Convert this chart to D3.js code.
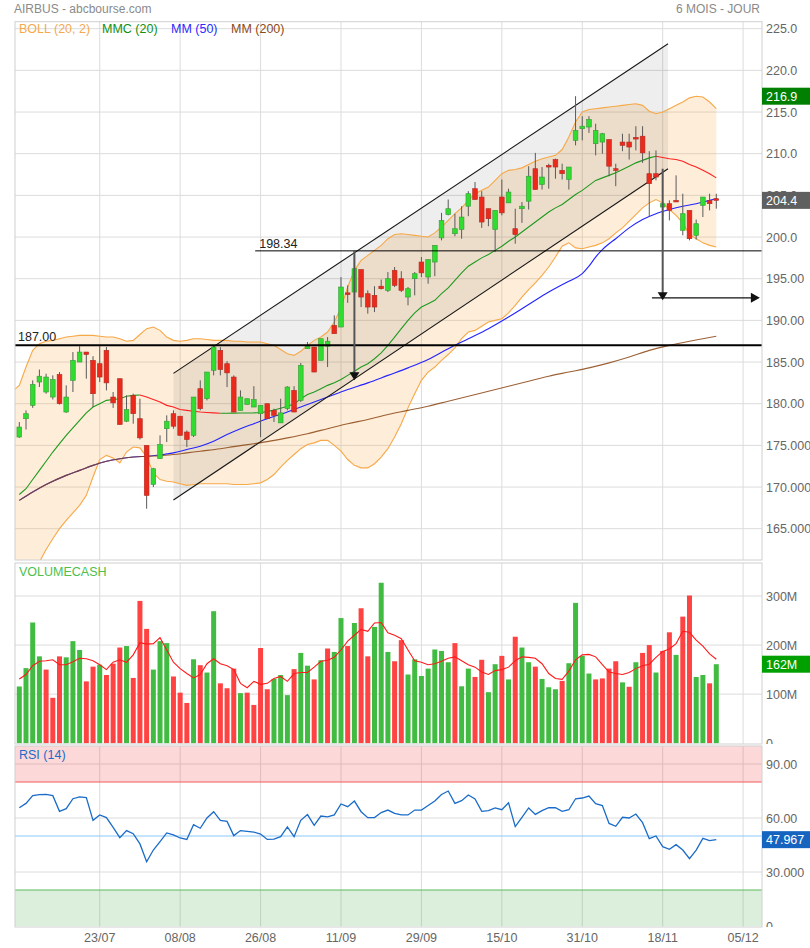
<!DOCTYPE html>
<html>
<head>
<meta charset="utf-8">
<script src="https://cdn.jsdelivr.net/npm/d3@7"></script>
<style>
  body { margin: 0; background: #fff; }
  svg text { font-family: "Liberation Sans", Arial, sans-serif; }
</style>
</head>
<body>
<script>
// Dates des graduations (index de séance)
const tickIdx = [12, 24, 36, 48, 60, 72, 84, 96, 108];
const tickLabels = ["23/07", "08/08", "26/08", "11/09", "29/09", "15/10", "31/10", "18/11", "05/12"];

// Cours (OHLC)
const openP = [176.0,178.2,179.8,182.6,181.4,180.8,183.5,179.0,182.8,185.0,
  186.2,185.2,184.8,186.4,180.8,183.0,177.9,181.0,178.2,175.0,
  170.3,173.4,177.0,178.8,178.5,176.6,176.2,181.8,180.6,184.0,
  186.4,184.8,183.2,179.2,179.9,179.6,178.8,180.0,179.2,177.7,
  179.4,181.6,180.4,186.6,186.8,185.2,186.9,189.4,189.2,193.3,
  193.4,196.1,193.2,193.0,194.1,193.6,196.0,195.0,192.8,195.0,
  197.0,195.2,197.0,199.9,202.7,200.4,200.9,203.7,205.8,204.8,
  203.4,200.9,204.8,204.1,201.0,203.4,204.3,208.2,206.3,208.6,
  209.3,208.0,206.9,211.6,213.0,213.2,211.2,211.4,211.7,208.2,
  211.4,211.4,211.95,212.1,207.6,207.6,203.6,204.0,204.4,200.8,
  203.2,200.2,203.8,204.4,204.6];
const highP = [177.8,179.2,182.8,184.1,183.6,183.4,183.8,182.2,186.2,186.9,
  186.2,185.7,186.9,186.8,181.4,183.0,181.0,181.2,180.6,175.0,
  172.3,176.2,178.6,179.2,178.5,176.8,180.8,182.8,183.8,186.9,
  186.8,185.1,183.4,181.6,180.6,182.1,179.8,180.0,179.4,180.6,
  182.1,182.1,184.9,187.4,186.8,187.8,188.0,190.6,195.2,194.2,
  198.34,196.1,193.6,194.1,194.9,195.8,196.4,195.9,194.0,195.8,
  197.6,197.3,199.0,202.9,204.5,202.8,203.7,205.5,206.6,205.5,
  203.4,203.2,206.9,205.8,203.4,204.2,208.5,210.1,208.4,208.8,
  209.4,208.8,208.4,216.9,214.5,214.5,213.6,212.5,211.7,208.8,
  212.4,212.4,213.3,213.3,210.3,210.4,204.2,204.4,207.4,205.2,
  203.2,202.1,204.8,205.2,205.2];
const lowP = [175.9,176.9,179.5,182.0,181.2,180.5,179.9,178.9,181.4,185.0,
  183.0,179.6,182.6,181.6,179.5,177.5,177.8,177.6,175.7,167.4,
  170.0,173.4,175.4,177.0,176.2,174.8,176.0,179.2,180.4,183.4,
  183.4,182.0,179.0,179.2,179.9,179.6,176.0,178.2,177.8,177.7,
  179.2,179.0,180.2,186.6,183.8,185.2,184.4,188.4,189.2,192.1,
  193.4,191.6,190.8,191.0,193.7,193.4,194.0,193.4,191.8,193.0,
  195.2,194.4,195.3,199.6,202.6,200.1,199.8,202.5,204.5,201.1,
  201.3,198.2,202.6,204.1,199.2,201.7,203.3,205.7,205.7,205.8,
  207.0,206.9,205.7,211.0,211.6,212.5,209.8,210.0,207.3,206.1,
  210.3,209.3,210.4,208.9,202.5,206.8,202.5,202.0,204.3,200.2,
  199.6,199.7,202.4,203.2,203.4];
const closeP = [177.2,178.8,182.3,183.3,183.2,182.9,180.0,180.8,185.2,186.2,
  185.9,181.2,183.2,182.5,180.1,177.5,179.3,178.8,175.9,169.0,
  172.2,175.1,177.9,177.3,176.2,175.7,180.8,179.4,183.8,186.8,
  184.1,183.7,179.0,180.8,180.6,180.5,179.8,178.2,178.6,178.9,
  182.0,179.0,184.6,186.9,183.8,187.8,187.5,188.4,194.0,193.1,
  196.2,192.8,191.6,191.6,193.8,195.0,194.2,193.6,193.8,195.6,
  195.7,197.3,199.0,202.0,203.4,201.0,202.4,205.2,204.5,201.8,
  202.2,203.2,202.9,205.4,200.3,203.7,207.3,205.7,207.2,208.4,
  208.4,207.6,208.4,212.8,213.3,214.1,212.8,212.4,208.5,208.0,
  211.0,210.8,211.85,210.1,206.4,207.2,204.0,203.2,204.3,202.8,
  199.8,201.6,204.8,204.0,204.4];

// Bandes de Bollinger (premier point = index -1)
const bollStart = -1;
const bollUp = [181.5,182.2,184.4,186.4,187.2,187.5,187.6,187.8,188.0,188.1,
  188.2,188.2,188.2,188.1,188.0,188.0,187.8,187.5,187.6,188.3,
  189.0,189.2,188.8,188.0,187.6,187.5,187.6,187.8,187.8,187.7,
  187.6,187.6,187.6,187.5,187.5,187.4,187.4,187.4,187.2,187.0,
  186.5,186.0,185.8,186.3,187.0,187.6,188.0,188.6,189.8,191.5,
  194.0,196.0,197.2,197.8,198.4,199.0,199.8,200.3,200.4,200.3,
  200.2,200.1,200.0,200.5,201.2,202.0,202.8,203.5,204.4,205.2,
  205.6,206.0,206.8,207.6,208.0,208.1,208.3,208.7,209.1,209.4,
  209.6,209.8,210.5,212.0,213.8,215.0,215.3,215.4,215.5,215.6,
  215.7,215.8,215.9,216.0,215.8,215.1,214.8,215.0,215.4,215.8,
  216.2,216.7,216.9,216.8,216.2,215.4];
const bollLow = [153.0,155.0,157.0,159.0,161.0,162.5,163.8,165.0,166.0,166.9,
  167.8,169.0,171.2,173.3,173.8,173.5,172.9,174.2,174.8,174.7,
  173.6,171.7,170.9,170.7,170.6,170.4,170.2,170.3,170.4,170.4,
  170.4,170.4,170.4,170.3,170.3,170.3,170.4,170.5,170.9,171.5,
  172.4,173.2,173.9,174.6,175.1,175.3,175.6,175.6,175.0,174.3,
  173.3,172.6,172.3,172.3,172.8,173.6,174.6,176.0,177.6,179.5,
  181.2,182.8,183.8,184.4,185.2,185.9,186.7,187.8,188.6,188.8,
  189.3,189.8,190.0,190.2,190.9,191.8,192.8,193.7,194.5,195.4,
  196.4,197.6,198.9,199.3,198.7,198.6,198.8,199.0,199.3,199.8,
  200.5,201.1,201.9,202.7,203.5,204.1,204.5,204.1,203.3,202.6,
  201.7,200.3,199.8,199.3,199.0,198.8];

// Moyenne mobile 20 (MMC)
const mmc = [169.1,169.8,170.9,172.0,173.1,174.2,175.2,176.2,177.1,178.0,
  178.9,179.6,180.0,180.4,180.5,180.6,180.9,181.0,181.05,180.8,
  180.5,180.2,179.8,179.6,179.3,179.2,179.1,179.0,178.95,178.9,
  178.85,178.86,178.87,178.88,178.89,178.9,178.95,179.05,179.25,179.45,
  179.7,179.95,180.6,181.1,181.4,181.8,182.2,182.5,182.9,183.4,
  183.9,184.4,184.8,185.4,186.1,187.0,188.0,189.0,190.0,190.9,
  191.6,192.0,192.4,193.2,193.9,194.8,195.7,196.5,197.0,197.5,
  197.9,198.4,198.9,199.5,200.0,200.6,201.2,201.8,202.4,203.0,
  203.5,203.9,204.5,205.1,205.6,206.2,206.8,207.1,207.4,207.7,
  208.1,208.5,208.9,209.2,209.5,209.7,209.55,209.4,209.3,209.1,
  208.7,208.4,208.0,207.6,207.1];

// MM 50 et MM 200 (points relevés)
const mm50Idx = [0,2,4,7,9,11,13,15,17,19,21,23,25,27,29,31,33,35,37,40,43,46,49,52,55,58,61,64,67,70,73,76,79,82,84,85,86,87,88,89,91,93,95,97,99,101,103,104];
const mm50Val = [168.4,169.4,170.3,171.4,172.0,172.6,173.1,173.4,173.6,173.7,173.85,174.1,174.5,174.9,175.5,176.3,177.0,177.6,178.2,179.0,179.9,180.8,181.7,182.5,183.4,184.3,185.3,186.6,187.8,189.0,190.4,191.9,193.4,194.7,195.6,196.5,197.6,198.5,199.2,199.8,201.1,202.1,202.8,203.3,203.7,204.0,204.4,204.6];
const mm200Idx = [0,2,4,7,9,11,13,15,17,19,21,23,25,27,30,32,35,37,40,43,46,49,52,55,58,61,64,67,70,73,76,79,82,85,88,91,94,97,100,102,104];
const mm200Val = [168.4,169.4,170.3,171.4,172.0,172.6,173.1,173.4,173.6,173.7,173.75,173.9,174.1,174.3,174.6,174.85,175.2,175.45,175.9,176.4,177.0,177.6,178.1,178.7,179.2,179.7,180.3,180.9,181.5,182.1,182.7,183.3,183.8,184.3,184.9,185.6,186.4,187.0,187.5,187.8,188.1];

// Volumes (millions) et couleur (1 = hausse)
const volume = [115.6,153,246,177,150,92.5,177,175,208,190,
  126,156,160,139,162,195,198,133,290,233,
  150,208,204,136,103,82,171,159,144,269,
  122,112,152,102,103,78,194,110,131,139,
  98,151,184,158,130,169,193,186,255,198,
  245,275,177,237,327,186,167,210,140,171,
  137,152,191,188,165,204,116,152,135,170,
  104,161,178,130,217,195,165,156,131,114,
  110,127,163,286,178,142,130,132,152,167,
  124,115,165,184,200,144,188,226,180,258,
  301,135,139,122,161];
const volUp = [1,1,1,1,0,0,0,1,1,1, 0,0,1,0,0,0,1,0,0,0,
  1,1,1,0,0,0,1,0,1,1, 0,0,0,1,0,0,0,0,1,1,
  1,0,1,1,0,1,0,1,1,0, 1,0,0,1,1,1,0,0,1,1,
  1,1,1,1,1,0,1,1,0,0, 1,1,0,1,0,1,1,0,1,1,
  1,0,1,1,1,1,0,0,0,0, 1,0,1,0,0,1,0,0,1,0,
  0,1,1,0,1];
const volMa = [131,140,158,167,168,170,160,160,166,173,
  172,168,160,150,165,170,165,180,205,202,
  203,215,190,165,152,142,133,140,162,172,
  162,158,150,122,113,126,120,122,132,136,
  126,142,144,144,155,167,169,175,190,208,
  220,232,228,245,246,225,220,213,190,168,
  165,160,162,167,173,176,168,160,155,145,
  140,148,150,155,168,176,175,173,162,142,
  132,130,147,170,180,181,176,160,145,142,
  140,144,152,158,161,175,187,192,203,228,
  226,210,198,182,171];

// RSI (14)
const rsi = [65.7,68.1,72.4,73.0,73.1,72.4,63.7,65.2,70.7,71.7,
  71.3,58.7,61.7,60.2,54.8,49.1,53.0,51.3,45.6,35.7,
  42.2,46.9,51.7,50.6,48.9,48.1,56.3,54.3,60.0,63.5,
  58.7,58.1,50.2,53.0,52.6,52.2,51.1,48.1,48.3,49.6,
  55.0,49.6,58.7,61.9,55.9,61.1,60.6,61.7,67.8,66.3,
  69.4,63.5,60.2,60.2,63.0,64.4,62.6,61.7,61.7,64.4,
  64.4,66.9,69.4,73.1,75.0,68.1,69.6,72.8,70.6,63.7,
  64.1,65.6,64.6,68.5,55.2,60.4,65.6,62.0,64.1,65.7,
  65.7,63.7,64.6,70.7,71.1,72.2,68.0,66.9,57.0,55.4,
  60.4,60.0,62.2,57.4,48.5,50.0,44.1,42.6,45.2,42.2,
  37.4,42.2,48.7,47.4,47.967];

// Tracés d'analyse
const channelIdx = [23, 96.8];
const channelUpper = [183.64, 223.2];
const channelLower = [168.44, 208.2];
const resistLevel = 198.34, resistFrom = 35.2;
const supportLevel = 187.00;
const arrow1 = { idx: 50, from: 198.34, to: 182.8 };
const arrow2 = { idx: 96, from: 208.2, to: 192.4 };
const targetLevel = 192.7, targetFrom = 94.4, targetTo = 110.5;

// Graduations
const priceTicks = [225, 220, 215, 210, 205, 200, 195, 190, 185, 180, 175, 170, 165];
const priceTickLabels = ["225.0","220.0","215.0","210.0","205.0","200.0","195.00","190.00","185.00","180.00","175.000","170.000","165.000"];
const volTicks = [300, 200, 100, 0];
const volTickLabels = ["300M", "200M", "100M", "0"];
const rsiTicks = [90, 60, 30, 0];
const rsiTickLabels = ["90.00", "60.00", "30.000", "0"];

const W = 810, H = 948, L = 15, R = 762;
const pPanel = { top: 21.7, bottom: 560 };
const vPanel = { top: 563, bottom: 744 };
const rPanel = { top: 746, bottom: 927 };

const svg = d3.select("body").append("svg").attr("width", W).attr("height", H);

const x = d3.scaleLinear().domain([0, 108]).range([19.3, 743.1]);
const yP = d3.scaleLinear().domain([165, 225]).range([528.7, 28.7]);
const yV = d3.scaleLinear().domain([0, 300]).range([743.2, 596]);
const yR = d3.scaleLinear().domain([0, 100]).range([926, 746]);

const defs = svg.append("defs");
function clip(id, p) {
  defs.append("clipPath").attr("id", id).append("rect")
    .attr("x", L).attr("y", p.top).attr("width", R - L).attr("height", p.bottom - p.top);
}
clip("clipP", pPanel);
clip("clipV", vPanel);
clip("clipR", rPanel);

// En-tête
svg.append("text").attr("x", 14).attr("y", 13).attr("font-size", 12).attr("fill", "#8a8a8a").text("AIRBUS - abcbourse.com");
svg.append("text").attr("x", 760).attr("y", 13).attr("font-size", 12).attr("fill", "#8a8a8a").attr("text-anchor", "end").text("6 MOIS - JOUR");

function drawGrid(p, yScale, ticks) {
  const g = svg.append("g");
  g.selectAll(".h").data(ticks).enter().append("line")
    .attr("x1", L).attr("x2", R).attr("y1", d => yScale(d)).attr("y2", d => yScale(d))
    .attr("stroke", "#dcdcdc").attr("stroke-width", 1);
  g.selectAll(".v").data(tickIdx).enter().append("line")
    .attr("x1", d => x(d)).attr("x2", d => x(d)).attr("y1", p.top).attr("y2", p.bottom)
    .attr("stroke", "#dcdcdc").attr("stroke-width", 1);
  return g;
}

function drawFrame(p) {
  svg.append("rect").attr("x", L).attr("y", p.top).attr("width", R - L).attr("height", p.bottom - p.top)
    .attr("fill", "none").attr("stroke", "#d0d0d0").attr("stroke-width", 1);
}

function axisLabels(p, yScale, ticks, labels, clipId) {
  defs.append("clipPath").attr("id", clipId).append("rect")
    .attr("x", R).attr("y", p.top).attr("width", W - R).attr("height", p.bottom - p.top);
  svg.append("g").attr("clip-path", `url(#${clipId})`)
    .selectAll("text").data(ticks).enter().append("text")
    .attr("x", 766).attr("y", d => yScale(d)).attr("dy", "0.36em")
    .attr("font-size", 12.5).attr("fill", "#666")
    .text((d, k) => labels[k]);
}

function valueBox(yv, txt, color) {
  svg.append("rect").attr("x", R).attr("y", yv - 8.5).attr("width", W - R).attr("height", 17).attr("fill", color);
  svg.append("text").attr("x", 766).attr("y", yv).attr("dy", "0.36em").attr("font-size", 12.5)
    .attr("fill", "#fff").text(txt);
}

// ---------- Panneau des cours ----------
drawGrid(pPanel, yP, priceTicks);
const gp = svg.append("g").attr("clip-path", "url(#clipP)");

const bollPts = bollUp.map((u, k) => ({ i: k + bollStart, up: u, low: bollLow[k] }));
gp.append("path").datum(bollPts)
  .attr("d", d3.area().x(d => x(d.i)).y0(d => yP(d.low)).y1(d => yP(d.up)))
  .attr("fill", "rgba(247,164,64,0.2)");

// Canal (zone grisée)
const chanPts = channelIdx.map((c, k) => ({ i: c, up: channelUpper[k], low: channelLower[k] }));
gp.append("path").datum(chanPts)
  .attr("d", d3.area().x(d => x(d.i)).y0(d => yP(d.low)).y1(d => yP(d.up)))
  .attr("fill", "rgba(0,0,0,0.065)");

const bollLine = key => d3.line().x(d => x(d.i)).y(d => yP(d[key]));
["up", "low"].forEach(key => {
  gp.append("path").datum(bollPts).attr("d", bollLine(key))
    .attr("fill", "none").attr("stroke", "#f7a847").attr("stroke-width", 1.1);
});

// MM 50 / MM 200
const mmLine = d3.line().x(d => x(d[0])).y(d => yP(d[1])).curve(d3.curveMonotoneX);
gp.append("path").datum(mm50Idx.map((v, k) => [v, mm50Val[k]])).attr("d", mmLine)
  .attr("fill", "none").attr("stroke", "#2323ff").attr("stroke-width", 1.1);
gp.append("path").datum(mm200Idx.map((v, k) => [v, mm200Val[k]])).attr("d", mmLine)
  .attr("fill", "none").attr("stroke", "#8b4513").attr("stroke-width", 1.1).attr("stroke-opacity", 0.85);

// MMC 20 : vert en hausse, rouge en baisse
const runs = [];
for (let k = 0; k < mmc.length - 1; k++) {
  const up = mmc[k + 1] >= mmc[k];
  if (!runs.length || runs[runs.length - 1].up !== up) runs.push({ up, pts: [[k, mmc[k]]] });
  runs[runs.length - 1].pts.push([k + 1, mmc[k + 1]]);
}
const plainLine = d3.line().x(d => x(d[0])).y(d => yP(d[1]));
runs.forEach(r => {
  gp.append("path").datum(r.pts).attr("d", plainLine)
    .attr("fill", "none").attr("stroke", r.up ? "#1f9a1f" : "#ff2020").attr("stroke-width", 1.1);
});

// Lignes du canal
[channelUpper, channelLower].forEach(arr => {
  gp.append("line")
    .attr("x1", x(channelIdx[0])).attr("y1", yP(arr[0]))
    .attr("x2", x(channelIdx[1])).attr("y2", yP(arr[1]))
    .attr("stroke", "#151515").attr("stroke-width", 1.1);
});

// Bougies
const bw = 4.7;
const candles = openP.map((o, i) => ({ i, o, h: highP[i], l: lowP[i], c: closeP[i] }));
const cg = gp.append("g");
cg.selectAll("line.wick").data(candles).enter().append("line")
  .attr("x1", d => x(d.i)).attr("x2", d => x(d.i))
  .attr("y1", d => yP(d.h)).attr("y2", d => yP(d.l))
  .attr("stroke", "#5a5a5a").attr("stroke-width", 1);
cg.selectAll("rect").data(candles).enter().append("rect")
  .attr("x", d => x(d.i) - bw / 2)
  .attr("y", d => yP(Math.max(d.o, d.c)))
  .attr("width", bw)
  .attr("height", d => Math.max(1.6, Math.abs(yP(d.o) - yP(d.c))))
  .attr("fill", d => d.c >= d.o ? "#2fdc2f" : "#ec2a1c")
  .attr("stroke", d => d.c >= d.o ? "#3a9a3a" : "#b22a22")
  .attr("stroke-width", 0.6);

// Niveaux horizontaux
gp.append("line").attr("x1", L).attr("x2", R).attr("y1", yP(supportLevel)).attr("y2", yP(supportLevel))
  .attr("stroke", "#000").attr("stroke-width", 2);
gp.append("line").attr("x1", x(resistFrom)).attr("x2", R).attr("y1", yP(resistLevel)).attr("y2", yP(resistLevel))
  .attr("stroke", "#000").attr("stroke-width", 1);
svg.append("text").attr("x", 18).attr("y", yP(supportLevel) - 4).attr("font-size", 12.5).attr("fill", "#222")
  .text(supportLevel.toFixed(2));
svg.append("text").attr("x", x(resistFrom) + 4).attr("y", yP(resistLevel) - 3).attr("font-size", 12.5).attr("fill", "#222")
  .text(resistLevel.toFixed(2));

// Flèches
function downArrow(a) {
  const xa = x(a.idx);
  gp.append("line").attr("x1", xa).attr("x2", xa).attr("y1", yP(a.from)).attr("y2", yP(a.to) - 4)
    .attr("stroke", "#555").attr("stroke-width", 2);
  const tip = yP(a.to);
  gp.append("path").attr("d", `M${xa},${tip} L${xa - 5},${tip - 8} L${xa + 5},${tip - 8} Z`).attr("fill", "#111");
}
downArrow(arrow1);
downArrow(arrow2);
const ty = yP(targetLevel), tx0 = x(targetFrom), tx1 = x(targetTo);
gp.append("line").attr("x1", tx0).attr("x2", tx1 - 4).attr("y1", ty).attr("y2", ty).attr("stroke", "#111").attr("stroke-width", 1.1);
gp.append("path").attr("d", `M${tx1},${ty} L${tx1 - 9},${ty - 5} L${tx1 - 9},${ty + 5} Z`).attr("fill", "#111");

// Légende
const legend = [["BOLL (20, 2)", "#f5a94f", 19], ["MMC (20)", "#109010", 102], ["MM (50)", "#2a2aff", 171], ["MM (200)", "#8b4a1a", 231]];
legend.forEach(([t, c, lx]) => {
  svg.append("text").attr("x", lx).attr("y", 33).attr("font-size", 12.5).attr("fill", c).text(t);
});
drawFrame(pPanel);
axisLabels(pPanel, yP, priceTicks, priceTickLabels, "axP");
valueBox(yP(d3.max(highP)), d3.max(highP).toFixed(1), "#008000");
valueBox(yP(closeP[closeP.length - 1]), closeP[closeP.length - 1].toFixed(1), "#5f5f5f");

// ---------- Panneau des volumes ----------
drawGrid(vPanel, yV, [100, 200, 300]);
const gv = svg.append("g").attr("clip-path", "url(#clipV)");
gv.selectAll("rect").data(volume).enter().append("rect")
  .attr("x", (d, i) => x(i) - 2.5).attr("width", 5)
  .attr("y", d => yV(d)).attr("height", d => yV(0) - yV(d))
  .attr("fill", (d, i) => volUp[i] ? "#42bb42" : "#ff4242");
gv.append("path").datum(volMa)
  .attr("d", d3.line().x((d, i) => x(i)).y(d => yV(d)))
  .attr("fill", "none").attr("stroke", "#ff1a1a").attr("stroke-width", 1.1);
svg.append("text").attr("x", 19).attr("y", 576).attr("font-size", 12.5).attr("fill", "#4cbf4c").text("VOLUMECASH");
drawFrame(vPanel);
axisLabels(vPanel, yV, volTicks, volTickLabels, "axV");
valueBox(yV(volume[volume.length - 1]), "162M", "#00a000");

// ---------- Panneau RSI ----------
drawGrid(rPanel, yR, [30, 60, 90]);
const gr = svg.append("g").attr("clip-path", "url(#clipR)");
gr.append("rect").attr("x", L).attr("width", R - L).attr("y", yR(100)).attr("height", yR(80) - yR(100)).attr("fill", "rgba(245,60,60,0.2)");
gr.append("rect").attr("x", L).attr("width", R - L).attr("y", yR(20)).attr("height", yR(0) - yR(20)).attr("fill", "rgba(76,175,80,0.2)");
gr.append("line").attr("x1", L).attr("x2", R).attr("y1", yR(80)).attr("y2", yR(80)).attr("stroke", "#f25a5a");
gr.append("line").attr("x1", L).attr("x2", R).attr("y1", yR(20)).attr("y2", yR(20)).attr("stroke", "#5cb85c");
gr.append("line").attr("x1", L).attr("x2", R).attr("y1", yR(50)).attr("y2", yR(50)).attr("stroke", "#8cc8fa");
gr.append("path").datum(rsi)
  .attr("d", d3.line().x((d, i) => x(i)).y(d => yR(d)))
  .attr("fill", "none").attr("stroke", "#1a6cc8").attr("stroke-width", 1.3);
svg.append("text").attr("x", 19).attr("y", 759).attr("font-size", 12.5).attr("fill", "#1a6cc8").text("RSI (14)");
drawFrame(rPanel);
axisLabels(rPanel, yR, rsiTicks, rsiTickLabels, "axR");
valueBox(yR(rsi[rsi.length - 1]), rsi[rsi.length - 1].toFixed(3), "#1565c0");

// Axe des dates
svg.append("g").selectAll("text").data(tickIdx).enter().append("text")
  .attr("x", d => x(d)).attr("y", 942).attr("text-anchor", "middle")
  .attr("font-size", 12.5).attr("fill", "#666")
  .text((d, k) => tickLabels[k]);
</script>
</body>
</html>
